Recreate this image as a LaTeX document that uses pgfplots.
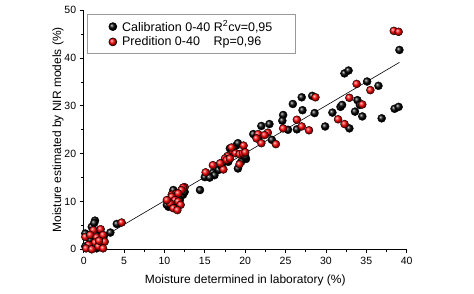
\documentclass[border=0pt]{standalone}
\usepackage{pgfplots}
\pgfplotsset{compat=1.18}
\usepackage{fontspec}
\setmainfont{Liberation Sans}
\begin{document}
\begin{tikzpicture}
\path[use as bounding box] (-83.7pt,-44.7pt) rectangle (390.3pt,249.3pt);
\begin{axis}[
  scale only axis,
  width=323pt, height=239pt,
  xmin=0, xmax=40, ymin=0, ymax=50,
  xtick={0,5,...,40}, ytick={0,10,...,50},
  minor x tick num=1, minor y tick num=1,
  axis lines*=left,
  axis line style={line width=1pt},
  tick align=outside,
  major tick length=4pt, minor tick length=2.5pt,
  every tick/.style={black, line width=0.8pt},
  tick label style={font=\fontsize{10.5}{12}\selectfont},
  /pgf/number format/assume math mode=true,
  label style={font=\fontsize{12}{14}\selectfont},
  xlabel={Moisture determined in laboratory (\%)},
  ylabel={Moisture estimated by NIR models (\%)},
  xlabel style={yshift=-4pt},
  ylabel style={yshift=-6pt},
  legend style={at={(rel axis cs:0.011,0.983)}, anchor=north west,
    draw=gray!80, line width=0.6pt, font=\fontsize{12.5}{14}\selectfont,
    inner xsep=21pt, inner ysep=4pt, row sep=0pt,
    /tikz/column 2/.style={column sep=0pt}, /tikz/column 1/.style={column sep=3pt}},
  legend cell align=left,
]
\addplot[only marks, mark=ball, mark size=4pt, ball color=black] coordinates {
(39.1,41.7) (32.3,36.8) (32.8,37.4) (35.1,35.1) (36.5,34.2) (33.9,31.2) (34.2,30.2)
(31.8,29.8) (32.0,30.2) (30.8,28.6) (33.6,28.8) (34.5,27.8) (36.9,27.4) (29.9,25.7)
(32.9,25.3) (38.5,29.4) (39.0,29.8) (28.6,28.5) (28.3,32.1) (27.0,31.8) (25.9,30.4)
(27.1,29.1) (24.7,28.1) (24.6,26.9) (25.3,25.0) (26.4,25.1) (22.0,25.8) (23.0,26.2)
(21.0,24.1) (21.4,23.4) (23.3,22.9) (21.6,23.2) (18.9,21.7) (18.1,21.1) (19.1,22.2)
(20.1,18.9) (20.0,19.4) (19.1,16.9) (17.9,18.3) (16.7,16.6) (16.0,16.0) (16.2,15.5)
(15.0,15.1) (15.6,15.0) (17.1,17.3) (19.5,18.3) (14.4,12.4) (12.3,11.4) (12.5,12.0)
(11.1,11.9) (11.1,12.4) (10.5,10.3) (10.5,8.9) (10.3,9.3) (11.7,9.6) (11.9,10.3)
(3.3,3.5) (4.1,5.3) (1.4,6.0) (1.0,4.7) (0.2,3.3) (2.0,4.0) (2.5,2.8) (0.8,2.0)
(2.0,0.9) (0.2,0.6) (1.6,0.2) (1.3,5.5)
};
\addlegendentry{Calibration 0-40 R\textsuperscript{2}cv=0,95}
\addplot[only marks, mark=ball, mark size=4pt, ball color=red] coordinates {
(38.4,45.7) (39.0,45.5) (33.8,34.6) (35.5,33.3) (28.7,31.8) (32.9,31.7) (34.5,30.3)
(31.5,27.2) (32.3,26.2) (27.9,24.9) (26.4,27.1) (27.0,25.7) (24.7,25.3) (22.8,24.4)
(21.6,24.1) (21.4,23.2) (22.0,22.2) (23.8,22.0) (22.4,23.9) (19.8,21.7) (18.5,20.4)
(18.8,20.1) (17.8,19.5) (17.5,19.0) (19.3,19.9) (18.3,21.3) (19.3,17.8) (19.7,20.1)
(20.0,20.3) (17.3,16.7) (16.9,18.0) (16.0,17.6) (15.1,16.1) (17.7,18.7) (18.1,19.0)
(12.5,13.0) (12.3,12.9) (10.9,11.4) (11.5,11.7) (12.1,12.4) (11.7,11.7) (10.9,11.0)
(11.3,10.3) (10.7,9.6) (11.7,10.0) (12.0,9.3) (11.1,8.6) (11.6,8.2) (10.3,10.3)
(4.7,5.6) (1.2,4.0) (2.1,4.2) (0.2,2.6) (0.8,3.0) (1.6,2.5) (2.4,3.0) (2.6,1.6)
(1.4,1.4) (0.6,0.9) (1.8,0.6) (0.3,0.2) (2.4,0.2) (1.0,0.0) (1.9,1.8)
};
\addlegendentry{Predition 0-40\hspace{1.1em}Rp=0,96}
\addplot[black, line width=0.6pt, forget plot] coordinates {(0,0.2) (39.1,39.1)};
\end{axis}
\end{tikzpicture}
\end{document}
